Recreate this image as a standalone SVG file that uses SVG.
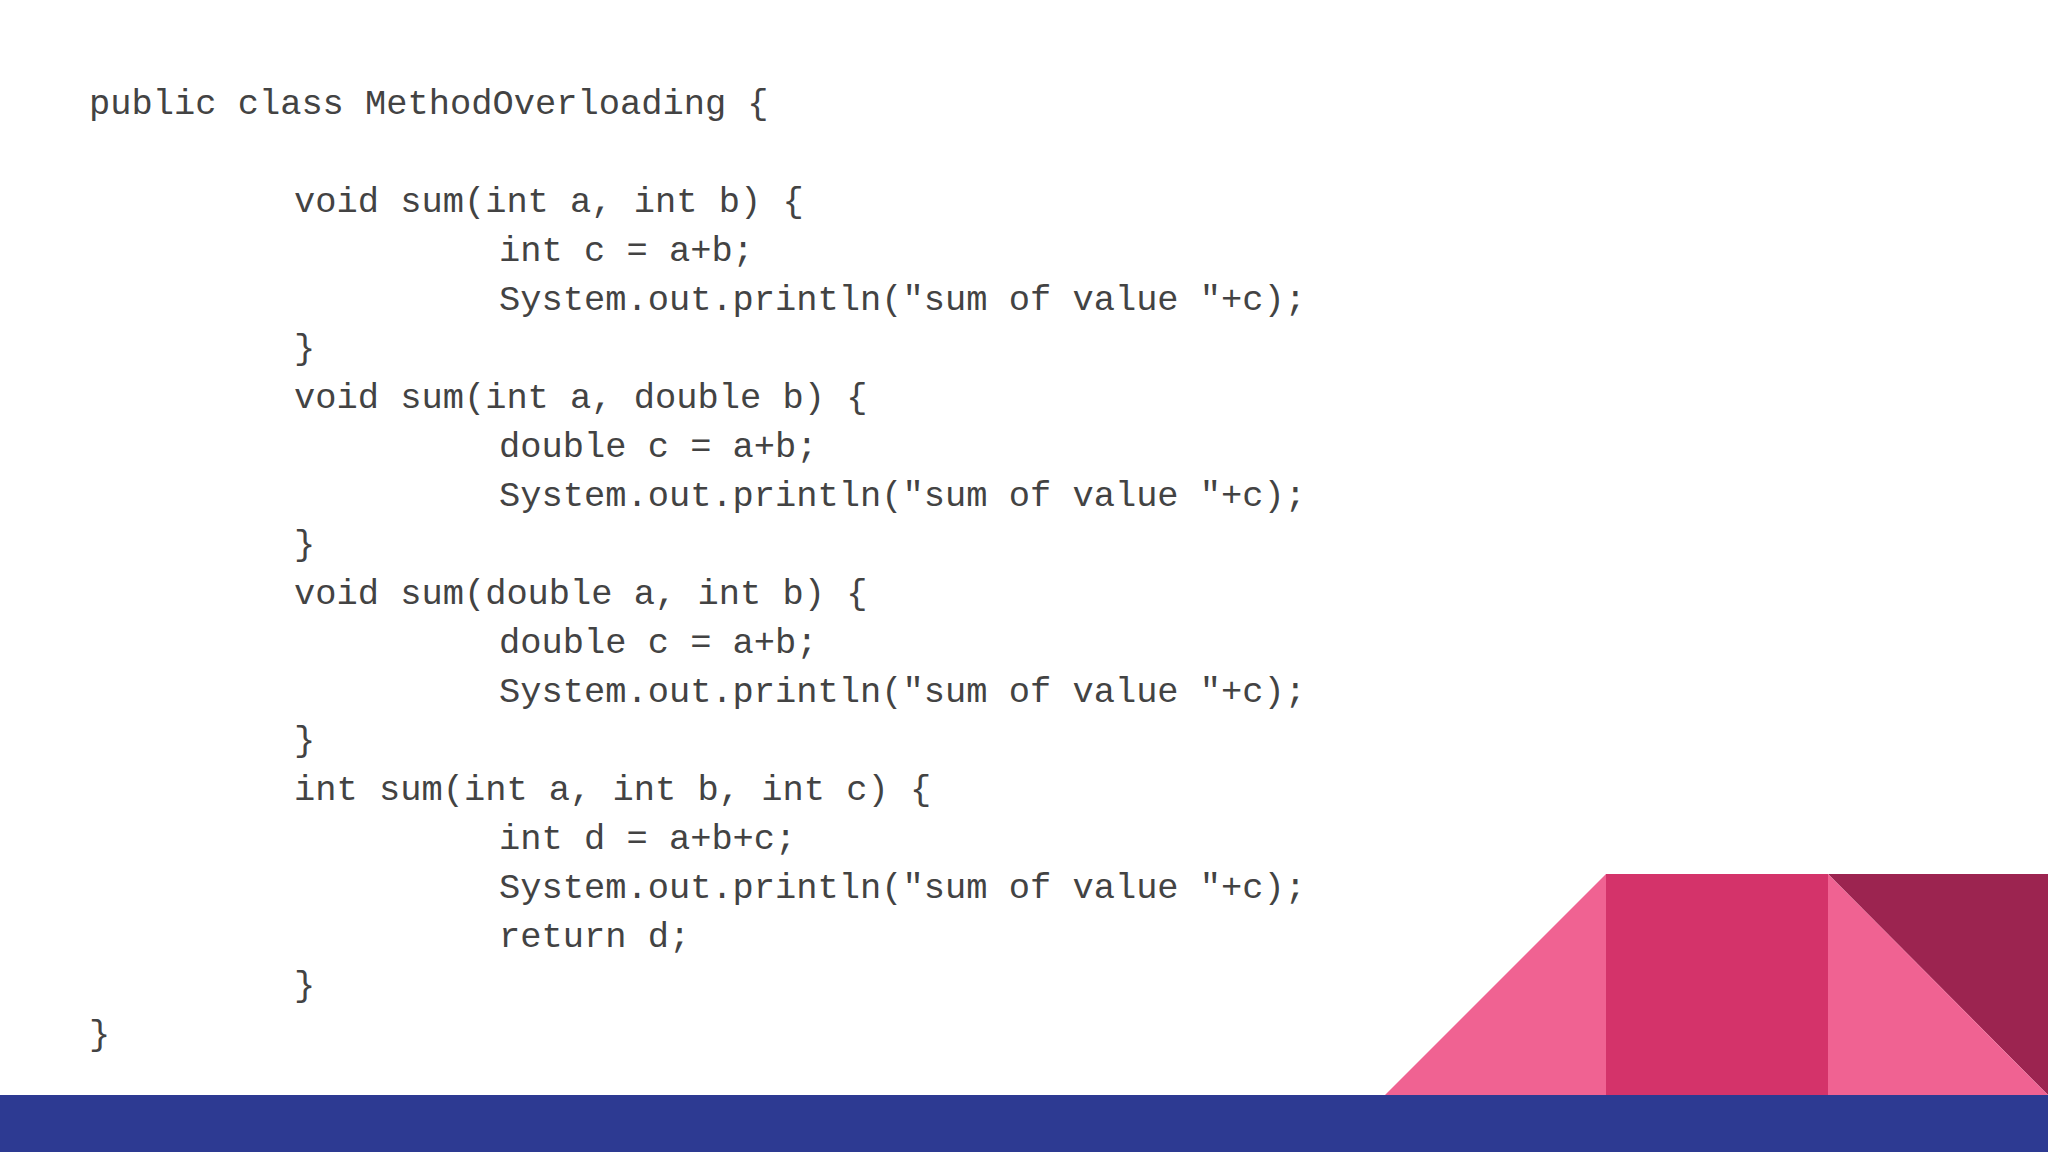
<svg xmlns="http://www.w3.org/2000/svg" width="2048" height="1152" viewBox="0 0 2048 1152">
<style>
.code{font-family:"Liberation Mono","Courier New",monospace;font-size:35.4px;fill:#434343;white-space:pre}
</style>
<rect width="2048" height="1152" fill="#ffffff"/>
<g id="decor">
<polygon points="1385,1095 1606,874 1606,1095" fill="#f06292"/>
<rect x="1606" y="874" width="222" height="221" fill="#d4336a"/>
<polygon points="1828,874 2048,874 2048,1095" fill="#9c2450"/>
<polygon points="1828,874 2048,1095 1828,1095" fill="#f06292"/>
<rect x="0" y="1095" width="2048" height="57" fill="#2d3a92"/>
</g>
<g id="code">
<text class="code" x="89" y="114">public class MethodOverloading {</text>
<text class="code" x="294" y="212">void sum(int a, int b) {</text>
<text class="code" x="499" y="261">int c = a+b;</text>
<text class="code" x="499" y="310">System.out.println("sum of value "+c);</text>
<text class="code" x="294" y="359">}</text>
<text class="code" x="294" y="408">void sum(int a, double b) {</text>
<text class="code" x="499" y="457">double c = a+b;</text>
<text class="code" x="499" y="506">System.out.println("sum of value "+c);</text>
<text class="code" x="294" y="555">}</text>
<text class="code" x="294" y="604">void sum(double a, int b) {</text>
<text class="code" x="499" y="653">double c = a+b;</text>
<text class="code" x="499" y="702">System.out.println("sum of value "+c);</text>
<text class="code" x="294" y="751">}</text>
<text class="code" x="294" y="800">int sum(int a, int b, int c) {</text>
<text class="code" x="499" y="849">int d = a+b+c;</text>
<text class="code" x="499" y="898">System.out.println("sum of value "+c);</text>
<text class="code" x="499" y="947">return d;</text>
<text class="code" x="294" y="996">}</text>
<text class="code" x="89" y="1045">}</text>
</g>
</svg>
